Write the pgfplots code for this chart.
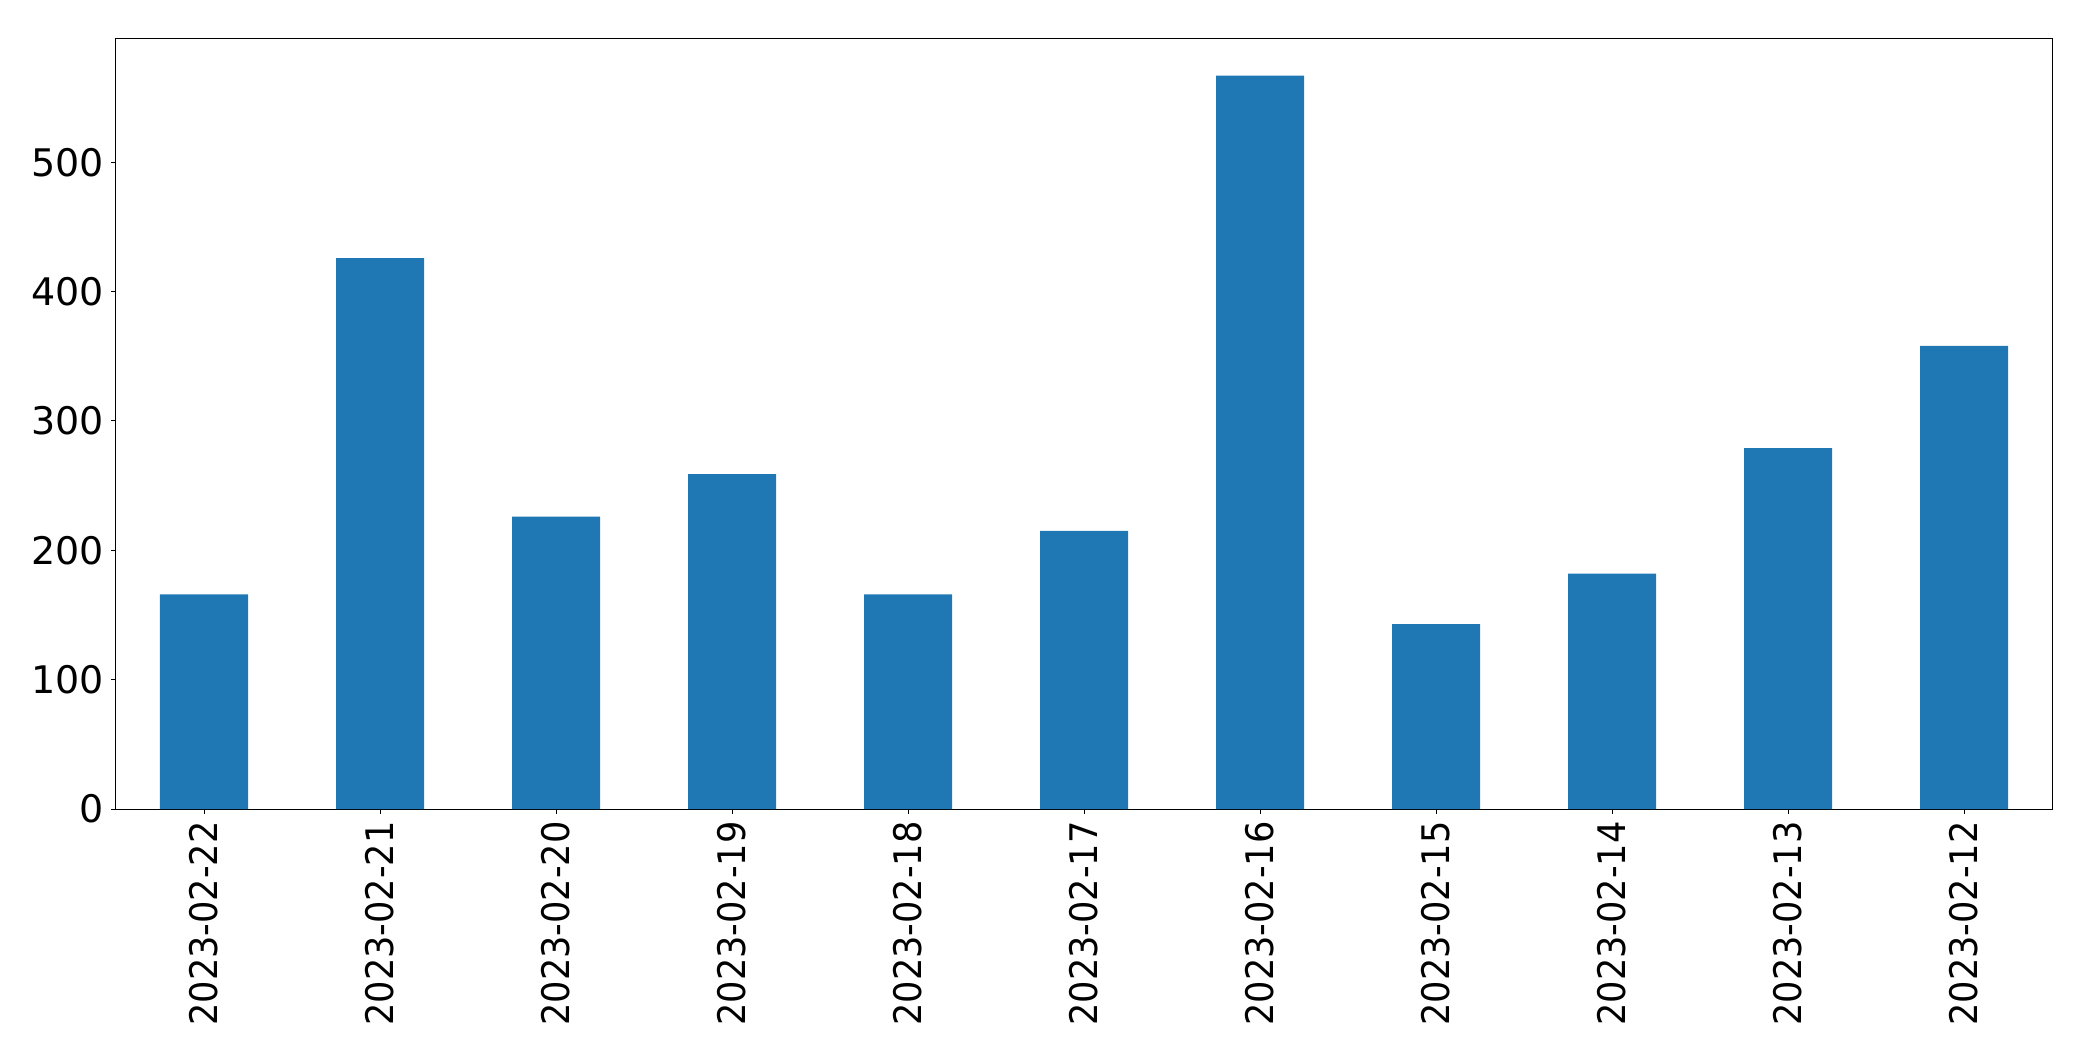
\documentclass[border=0pt]{standalone}
\usepackage{fontspec}
\setmainfont{DejaVu Sans}
\usepackage{graphicx}
\usepackage{pgfplots}
\pgfplotsset{compat=1.18}
\definecolor{mplblue}{HTML}{1F77B4}
\newcommand\xl[1]{\scalebox{0.925}[1]{#1}}
\begin{document}
\begin{tikzpicture}
\begin{axis}[
  scale only axis,
  width=968pt, height=385pt,
  xmin=-0.5, xmax=10.5,
  ymin=0, ymax=595.35,
  ytick={0,100,200,300,400,500},
  xtick={0,1,2,3,4,5,6,7,8,9,10},
  xticklabels={\xl{2023-02-22},\xl{2023-02-21},\xl{2023-02-20},\xl{2023-02-19},\xl{2023-02-18},\xl{2023-02-17},\xl{2023-02-16},\xl{2023-02-15},\xl{2023-02-14},\xl{2023-02-13},\xl{2023-02-12}},
  x tick label style={rotate=90, anchor=east, font=\fontsize{19}{22}\selectfont},
  y tick label style={font=\fontsize{19}{22}\selectfont},
  /pgf/number format/assume math mode=true,
  tick align=outside,
  major tick length=2.6pt,
  xtick pos=bottom, ytick pos=left,
  axis line style={line width=0.5pt},
  tick style={black, line width=0.5pt},
  ybar, bar width=0.5, bar shift=0pt,
]
\addplot[fill=mplblue, draw=none] coordinates {
(0,166) (1,426) (2,226) (3,259) (4,166) (5,215) (6,567) (7,143) (8,182) (9,279) (10,358)
};
\coordinate (bl) at (rel axis cs:0,0);
\coordinate (tr) at (rel axis cs:1,1);
\end{axis}
\path ([shift={(-58pt,-126pt)}]bl) rectangle ([shift={(20.5pt,19.5pt)}]tr);
\end{tikzpicture}
\end{document}
